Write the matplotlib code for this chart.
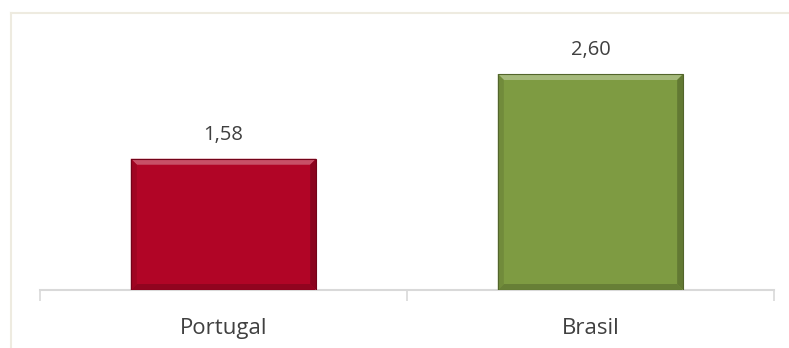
import matplotlib.pyplot as plt
from matplotlib.lines import Line2D
from matplotlib.patches import Polygon
from matplotlib.colors import to_rgb

paises = ['Portugal', 'Brasil']
valores = [1.58, 2.60]
cores = ['#B10526', '#7E9B42']
rotulos = ['1,58', '2,60']

plt.rcParams['font.family'] = ['Open Sans', 'DejaVu Sans']


def mistura(cor, alvo, t):
    c = to_rgb(cor)
    return tuple(a + (b - a) * t for a, b in zip(c, alvo))


fig = plt.figure(figsize=(7.89, 3.48), dpi=100)
ax = fig.add_axes([40 / 789, 58 / 348, 734 / 789, 270 / 348])

x = range(len(paises))
barras = ax.bar(x, valores, width=0.505, color=cores, linewidth=0, zorder=2)

ax.set_xlim(-0.5, 1.5)
ax.set_ylim(0, 3.25)

# chanfro nas bordas das barras (efeito de relevo)
bx = 0.5 * 2 / 734 * 6 * 2  # ~6 px em x
by = 3.25 / 270 * 6        # ~6 px em y
for b, cor in zip(barras, cores):
    x0, x1 = b.get_x(), b.get_x() + b.get_width()
    y0, y1 = 0, b.get_height()
    faces = [
        ([(x0, y1), (x1, y1), (x1 - bx, y1 - by), (x0 + bx, y1 - by)], mistura(cor, (1, 1, 1), 0.3)),
        ([(x0, y0), (x1, y0), (x1 - bx, y0 + by), (x0 + bx, y0 + by)], mistura(cor, (0, 0, 0), 0.18)),
        ([(x0, y0), (x0, y1), (x0 + bx, y1 - by), (x0 + bx, y0 + by)], mistura(cor, (0, 0, 0), 0.1)),
        ([(x1, y0), (x1, y1), (x1 - bx, y1 - by), (x1 - bx, y0 + by)], mistura(cor, (0, 0, 0), 0.22)),
    ]
    for pts, c in faces:
        ax.add_patch(Polygon(pts, closed=True, facecolor=c, edgecolor='none', zorder=3))
    ax.add_patch(Polygon([(x0, y0), (x1, y0), (x1, y1), (x0, y1)], closed=True, fill=False,
                         edgecolor=mistura(cor, (0, 0, 0), 0.35), lw=0.8, zorder=4))

for i, (v, r) in enumerate(zip(valores, rotulos)):
    ax.annotate(r, (i, v), xytext=(0, 13.5), textcoords='offset points',
                ha='center', va='baseline', fontsize=14.5, color='#404040')

ax.set_yticks([])
ax.set_xticks([-0.5, 0.5, 1.5])
ax.set_xticklabels([])
ax.tick_params(axis='x', length=8, width=1.2, color='#D9D9D9')
for i, p in enumerate(paises):
    ax.annotate(p, (i, 0), xytext=(0, -32), textcoords='offset points',
                ha='center', va='baseline', fontsize=16, color='#404040')

for s in ['top', 'right', 'left']:
    ax.spines[s].set_visible(False)
ax.spines['bottom'].set_color('#D9D9D9')
ax.spines['bottom'].set_linewidth(1.5)

# moldura do gráfico
fig.add_artist(Line2D([10.5 / 789, 1], [1 - 12.5 / 348, 1 - 12.5 / 348], color='#EEEBE0', lw=1.5))
fig.add_artist(Line2D([10.5 / 789, 10.5 / 789], [0, 1 - 12.5 / 348], color='#EEEBE0', lw=1.5))

fig.savefig('out.png', dpi=100)
